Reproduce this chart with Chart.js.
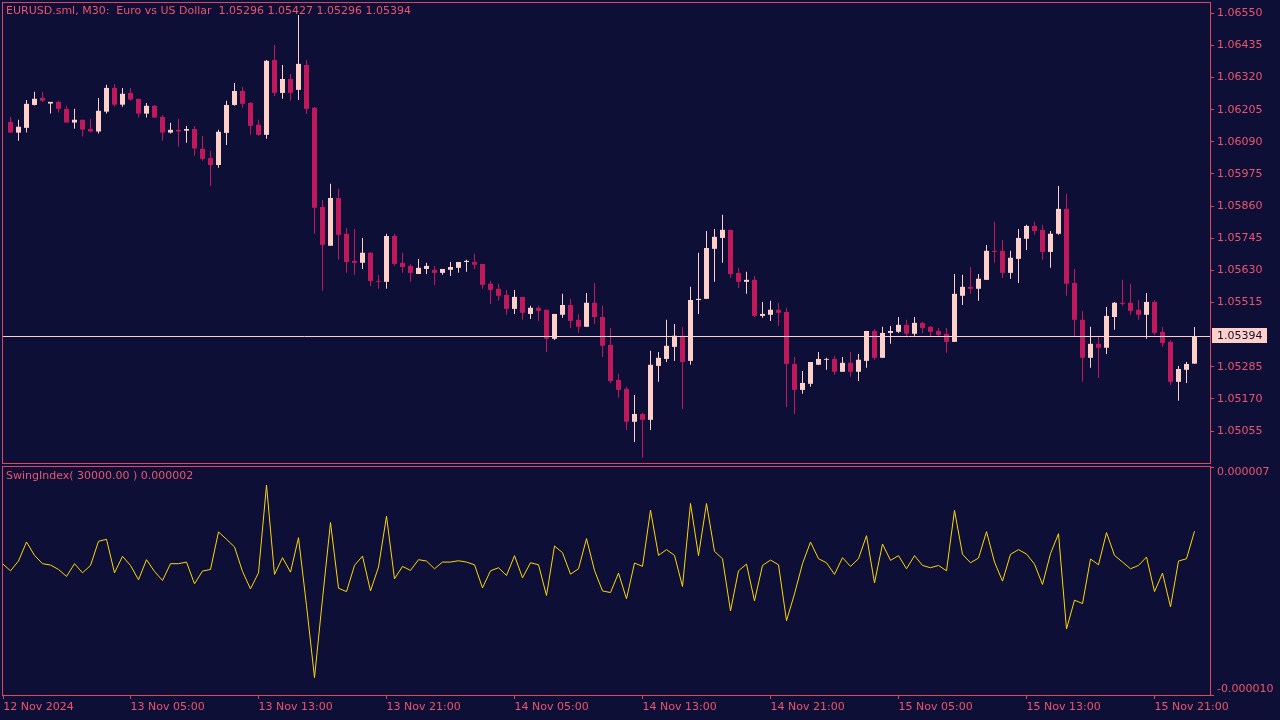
<!DOCTYPE html>
<html><head><meta charset="utf-8">
<script src="https://cdn.jsdelivr.net/npm/chart.js@4"></script>
<style>
html,body{margin:0;padding:0;background:#0d0f36;width:1280px;height:720px;overflow:hidden}
#c1{position:absolute;left:0;top:0}
#c2{position:absolute;left:0;top:465px}
</style></head><body>
<canvas id="c1" width="1280" height="465"></canvas>
<canvas id="c2" width="1280" height="255"></canvas>
<script>
// ---------- data ----------
const symbolTitle = 'EURUSD.sml, M30:  Euro vs US Dollar';
const indicatorName = 'SwingIndex';
const indicatorParam = '30000.00';

const openP = [1.06161,1.06123,1.06140,1.06222,1.06247,1.06227,1.06233,1.06208,1.06159,1.06169,
1.06136,1.06127,1.06198,1.06283,1.06223,1.06265,1.06244,1.06191,1.06219,1.06179,
1.06123,1.06133,1.06130,1.06136,1.06065,1.06032,1.06007,1.06122,1.06222,1.06272,
1.06229,1.06151,1.06115,1.06383,1.06265,1.06315,1.06276,1.06365,1.06212,1.05857,
1.05718,1.05889,1.05761,1.05664,1.05657,1.05693,1.05592,1.05589,1.05753,1.05657,
1.05646,1.05617,1.05635,1.05632,1.05621,1.05632,1.05639,1.05660,1.05660,1.05653,
1.05582,1.05564,1.05542,1.05492,1.05535,1.05474,1.05496,1.05489,1.05385,1.05471,
1.05506,1.05453,1.05428,1.05514,1.05463,1.05363,1.05238,1.05206,1.05088,1.05116,
1.05095,1.05288,1.05313,1.05356,1.05396,1.05306,1.05524,1.05528,1.05707,1.05746,
1.05775,1.05621,1.05589,1.05596,1.05467,1.05471,1.05489,1.05481,1.05295,1.05202,
1.05224,1.05292,1.05310,1.05313,1.05267,1.05299,1.05267,1.05306,1.05413,1.05317,
1.05406,1.05410,1.05435,1.05403,1.05442,1.05428,1.05413,1.05403,1.05374,1.05539,
1.05571,1.05564,1.05596,1.05700,1.05700,1.05621,1.05671,1.05743,1.05789,1.05775,
1.05696,1.05761,1.05850,1.05585,1.05453,1.05317,1.05367,1.05353,1.05463,1.05514,
1.05514,1.05489,1.05471,1.05517,1.05410,1.05374,1.05231,1.05274,1.05296];

const highP = [1.06179,1.06169,1.06240,1.06269,1.06269,1.06233,1.06237,1.06219,1.06208,1.06169,
1.06172,1.06247,1.06294,1.06297,1.06283,1.06283,1.06244,1.06229,1.06222,1.06186,
1.06158,1.06172,1.06147,1.06147,1.06111,1.06058,1.06133,1.06237,1.06301,1.06287,
1.06233,1.06169,1.06383,1.06437,1.06365,1.06333,1.06544,1.06383,1.06215,1.05882,
1.05940,1.05922,1.05782,1.05778,1.05746,1.05696,1.05614,1.05761,1.05761,1.05693,
1.05653,1.05671,1.05657,1.05646,1.05635,1.05660,1.05660,1.05668,1.05689,1.05653,
1.05592,1.05582,1.05560,1.05560,1.05535,1.05503,1.05503,1.05489,1.05474,1.05546,
1.05528,1.05474,1.05549,1.05585,1.05503,1.05424,1.05260,1.05213,1.05184,1.05120,
1.05342,1.05338,1.05453,1.05438,1.05428,1.05571,1.05693,1.05771,1.05778,1.05829,
1.05775,1.05639,1.05625,1.05610,1.05517,1.05521,1.05514,1.05496,1.05320,1.05270,
1.05302,1.05338,1.05317,1.05324,1.05320,1.05338,1.05331,1.05413,1.05420,1.05428,
1.05431,1.05463,1.05453,1.05463,1.05446,1.05431,1.05424,1.05424,1.05617,1.05614,
1.05642,1.05617,1.05721,1.05804,1.05739,1.05700,1.05778,1.05793,1.05804,1.05793,
1.05771,1.05932,1.05904,1.05635,1.05485,1.05428,1.05396,1.05499,1.05517,1.05596,
1.05582,1.05524,1.05549,1.05524,1.05428,1.05381,1.05288,1.05302,1.05427];

const lowP = [1.06123,1.06094,1.06123,1.06220,1.06233,1.06191,1.06195,1.06159,1.06137,1.06109,
1.06123,1.06120,1.06191,1.06216,1.06216,1.06237,1.06177,1.06177,1.06177,1.06094,
1.06120,1.06073,1.06087,1.06041,1.06022,1.05932,1.05997,1.06079,1.06219,1.06212,
1.06115,1.06111,1.06101,1.06254,1.06244,1.06237,1.06240,1.06190,1.05761,1.05557,
1.05718,1.05668,1.05621,1.05614,1.05635,1.05574,1.05564,1.05564,1.05646,1.05621,
1.05589,1.05617,1.05617,1.05578,1.05614,1.05610,1.05621,1.05625,1.05635,1.05564,
1.05510,1.05521,1.05471,1.05474,1.05453,1.05456,1.05449,1.05338,1.05381,1.05460,
1.05424,1.05406,1.05428,1.05438,1.05320,1.05227,1.05174,1.05059,1.05016,1.04959,
1.05059,1.05231,1.05302,1.05306,1.05134,1.05292,1.05474,1.05528,1.05589,1.05657,
1.05603,1.05567,1.05546,1.05463,1.05460,1.05449,1.05431,1.05141,1.05116,1.05188,
1.05213,1.05292,1.05274,1.05256,1.05267,1.05249,1.05234,1.05281,1.05310,1.05317,
1.05367,1.05406,1.05392,1.05396,1.05406,1.05392,1.05392,1.05335,1.05374,1.05506,
1.05546,1.05521,1.05596,1.05657,1.05603,1.05600,1.05585,1.05703,1.05757,1.05668,
1.05639,1.05757,1.05539,1.05392,1.05231,1.05281,1.05245,1.05331,1.05417,1.05503,
1.05471,1.05453,1.05385,1.05399,1.05356,1.05220,1.05163,1.05227,1.05296];

const closeP = [1.06123,1.06144,1.06226,1.06244,1.06237,1.06233,1.06208,1.06159,1.06169,1.06134,
1.06127,1.06201,1.06283,1.06223,1.06262,1.06241,1.06191,1.06219,1.06177,1.06123,
1.06133,1.06127,1.06136,1.06066,1.06029,1.06007,1.06126,1.06222,1.06272,1.06226,
1.06147,1.06115,1.06380,1.06265,1.06315,1.06265,1.06369,1.06208,1.05854,1.05721,
1.05889,1.05757,1.05660,1.05657,1.05693,1.05592,1.05589,1.05753,1.05653,1.05642,
1.05621,1.05639,1.05646,1.05621,1.05635,1.05642,1.05660,1.05664,1.05650,1.05578,
1.05560,1.05539,1.05492,1.05535,1.05478,1.05496,1.05485,1.05385,1.05474,1.05506,
1.05449,1.05428,1.05514,1.05463,1.05360,1.05234,1.05202,1.05088,1.05116,1.05095,
1.05292,1.05317,1.05360,1.05396,1.05302,1.05524,1.05528,1.05710,1.05750,1.05775,
1.05617,1.05589,1.05596,1.05467,1.05474,1.05489,1.05478,1.05295,1.05202,1.05227,
1.05302,1.05313,1.05313,1.05267,1.05299,1.05267,1.05310,1.05413,1.05317,1.05406,
1.05413,1.05435,1.05403,1.05442,1.05424,1.05410,1.05399,1.05374,1.05546,1.05571,
1.05564,1.05600,1.05700,1.05696,1.05621,1.05675,1.05746,1.05789,1.05771,1.05696,
1.05761,1.05850,1.05582,1.05453,1.05317,1.05367,1.05353,1.05467,1.05514,1.05510,
1.05485,1.05471,1.05517,1.05406,1.05370,1.05231,1.05277,1.05295,1.05394];

// Swing index, in millionths (x 0.000001); first value belongs to the bar just left of bar 0
const swingIndexMicro = [-0.21,
-0.74,-0.01,1.41,0.41,-0.21,-0.31,-0.64,-1.16,-0.21,-0.89,
-0.34,1.46,1.61,-0.89,0.34,-0.34,-1.41,0.09,-0.79,-1.46,
-0.21,-0.21,-0.09,-1.71,-0.76,-0.64,2.16,1.61,1.04,-0.79,
-2.09,-0.89,5.65,-1.01,0.24,-0.84,1.73,-3.33,-8.70,-2.83,
2.86,-2.04,-2.29,-0.34,0.36,-2.24,-0.46,3.33,-1.34,-0.41,
-0.71,0.09,-0.01,-0.59,-0.09,-0.09,0.01,-0.09,-0.29,-2.01,
-0.74,-0.51,-1.09,0.39,-1.26,-0.14,-0.29,-2.58,1.11,0.61,
-0.99,-0.59,1.66,-0.71,-2.24,-2.36,-0.91,-2.83,-0.16,-0.41,
3.78,0.41,0.84,0.41,-1.91,4.28,0.39,4.28,0.71,0.16,
-3.73,-0.74,-0.24,-2.98,-0.34,0.06,-0.29,-4.46,-2.46,-0.21,
1.41,0.16,-0.14,-1.01,0.24,-0.41,0.16,1.88,-1.64,1.26,
0.04,0.39,-0.59,0.39,-0.34,-0.51,-0.34,-0.74,3.76,0.49,
-0.14,0.21,2.18,-0.09,-1.51,0.49,0.84,0.51,-0.24,-1.76,
0.54,2.03,-5.08,-2.93,-3.18,0.14,-0.29,2.11,0.41,-0.09,
-0.59,-0.34,0.29,-2.29,-0.91,-3.43,-0.01,0.16,2.21];

const priceTicks = [1.06550,1.06435,1.06320,1.06205,1.06090,1.05975,1.05860,1.05745,1.05630,1.05515,1.05285,1.05170,1.05055];
const swingTicks = [7, -10];   // millionths
const timeLabels = ['12 Nov 2024','13 Nov 05:00','13 Nov 13:00','13 Nov 21:00','14 Nov 05:00','14 Nov 13:00','14 Nov 21:00','15 Nov 05:00','15 Nov 13:00','15 Nov 21:00'];
const timeLabelBars = [-0.9, 15, 31, 47, 63, 79, 95, 111, 127, 143];

// ---------- style ----------
const BG = '#0d0f36', AX = '#e0455f', TXT = '#ec5570', BULL = '#ffd0c8', BEAR = '#c0185a', LINE = '#ffd700';
const FONT = {family: 'DejaVu Sans', size: 11};
const X_MIN = -0.9375, X_MAX = X_MIN + 1207 / 8;
const Y_MIN = 1.049405, Y_MAX = 1.065869;

const N = closeP.length;
const idx = closeP.map((_, i) => i);
const isBull = i => closeP[i] >= openP[i];
const candleColors = idx.map(i => isBull(i) ? BULL : BEAR);

function framePlugin(extra) {
  return {
    id: 'frame' + Math.random(),
    afterDraw(chart) {
      const ctx = chart.ctx, a = chart.chartArea;
      ctx.save();
      ctx.strokeStyle = AX; ctx.lineWidth = 1;
      ctx.strokeRect(Math.floor(a.left) - 0.5, Math.floor(a.top) - 0.5, Math.round(a.right - a.left) + 1, Math.round(a.bottom - a.top) + 1);
      ctx.restore();
      if (extra) extra(chart);
    }
  };
}

// ---------- main price panel ----------
const bidPlugin = {
  id: 'bid',
  afterDatasetsDraw(chart) {
    const ctx = chart.ctx, a = chart.chartArea, ys = chart.scales.y;
    const y = Math.round(ys.getPixelForValue(closeP[N - 1])) + 0.5;
    ctx.save();
    ctx.strokeStyle = BULL; ctx.lineWidth = 1;
    ctx.beginPath(); ctx.moveTo(a.left, y); ctx.lineTo(a.right, y); ctx.stroke();
    ctx.restore();
  }
};

new Chart(document.getElementById('c1'), {
  type: 'bar',
  data: {
    datasets: [
      { label: 'body', data: idx.map(i => ({x: i, y: [openP[i], closeP[i]]})), backgroundColor: candleColors,
        barThickness: 5, grouped: false, order: 0, borderWidth: 0, inflateAmount: 0 },
      { label: 'wick', data: idx.map(i => ({x: i, y: [lowP[i], highP[i]]})), backgroundColor: candleColors,
        barThickness: 1, grouped: false, order: 1, borderWidth: 0, inflateAmount: 0 }
    ]
  },
  options: {
    responsive: false, animation: false, devicePixelRatio: 1,
    layout: { padding: { left: 3, top: 3, right: 0, bottom: 2 } },
    plugins: { legend: { display: false }, tooltip: { enabled: false } },
    scales: {
      x: { type: 'linear', min: X_MIN, max: X_MAX, bounds: 'data', offset: false, grid: { offset: false }, display: false },
      y: { position: 'right', min: Y_MIN, max: Y_MAX, bounds: 'data',
        afterFit(s) { s.width = 70; s.paddingTop = 0; s.paddingBottom = 0; },
        afterBuildTicks(s) { s.ticks = priceTicks.map(v => ({value: v})); },
        ticks: { color: TXT, font: FONT, padding: 3, callback: v => v.toFixed(5) },
        grid: { drawOnChartArea: false, drawTicks: true, tickLength: 4, color: AX },
        border: { display: false } }
    }
  },
  plugins: [bidPlugin, framePlugin(chart => {
    const ctx = chart.ctx, ys = chart.scales.y;
    const last = N - 1;
    ctx.save();
    ctx.font = '11px "DejaVu Sans"'; ctx.textBaseline = 'middle';
    ctx.fillStyle = TXT;
    ctx.fillText(`${symbolTitle}  ${openP[last].toFixed(5)} ${highP[last].toFixed(5)} ${lowP[last].toFixed(5)} ${closeP[last].toFixed(5)}`, 6, 11.5);
    const yc = Math.round(ys.getPixelForValue(closeP[last]));
    ctx.fillStyle = BULL;
    ctx.fillRect(1212, yc - 8, 55, 15);
    ctx.fillStyle = BG;
    ctx.fillText(closeP[last].toFixed(5), 1217, yc);
    ctx.restore();
  })]
});

// ---------- swing index panel ----------
const edgeLabels = {
  id: 'edgeLabels',
  beforeDraw(chart) {
    const items = chart.scales.y.getLabelItems();
    const top = (Math.max(...swingTicks) / 1e6).toFixed(6);
    items.forEach(it => { it.options.textBaseline = (it.label === top) ? 'top' : 'bottom'; });
  }
};

new Chart(document.getElementById('c2'), {
  type: 'line',
  data: {
    datasets: [{ data: swingIndexMicro.map((v, k) => ({x: k - 1, y: v})), borderColor: LINE, borderWidth: 1,
      pointRadius: 0, tension: 0, fill: false }]
  },
  options: {
    responsive: false, animation: false, devicePixelRatio: 1,
    layout: { padding: { left: 3, top: 2, right: 0, bottom: 0 } },
    plugins: { legend: { display: false }, tooltip: { enabled: false } },
    scales: {
      x: { type: 'linear', min: X_MIN, max: X_MAX, bounds: 'data', offset: false,
        afterFit(s) { s.height = 25; s.paddingLeft = 0; s.paddingRight = 0; },
        afterBuildTicks(s) { s.ticks = timeLabelBars.map(v => ({value: v})); },
        ticks: { align: 'start', autoSkip: false, maxRotation: 0, color: TXT, font: FONT, padding: 2,
          callback: (v, i) => timeLabels[i] },
        grid: { drawOnChartArea: false, drawTicks: true, tickLength: 4, color: AX },
        border: { display: false } },
      y: { position: 'right', min: -10, max: 7, bounds: 'data',
        afterFit(s) { s.width = 70; s.paddingTop = 0; s.paddingBottom = 0; },
        afterBuildTicks(s) { s.ticks = swingTicks.map(v => ({value: v})); },
        ticks: { color: TXT, font: FONT, padding: 3, callback: v => (v / 1e6).toFixed(6) },
        grid: { drawOnChartArea: false, drawTicks: true, tickLength: 4, color: AX },
        border: { display: false } }
    }
  },
  plugins: [edgeLabels, framePlugin(chart => {
    const ctx = chart.ctx;
    ctx.save();
    ctx.font = '11px "DejaVu Sans"'; ctx.textBaseline = 'middle'; ctx.fillStyle = TXT;
    ctx.fillText(`${indicatorName}( ${indicatorParam} ) ${(swingIndexMicro[swingIndexMicro.length - 1] / 1e6).toFixed(6)}`, 6, 11);
    ctx.restore();
  })]
});
</script>
</body></html>
